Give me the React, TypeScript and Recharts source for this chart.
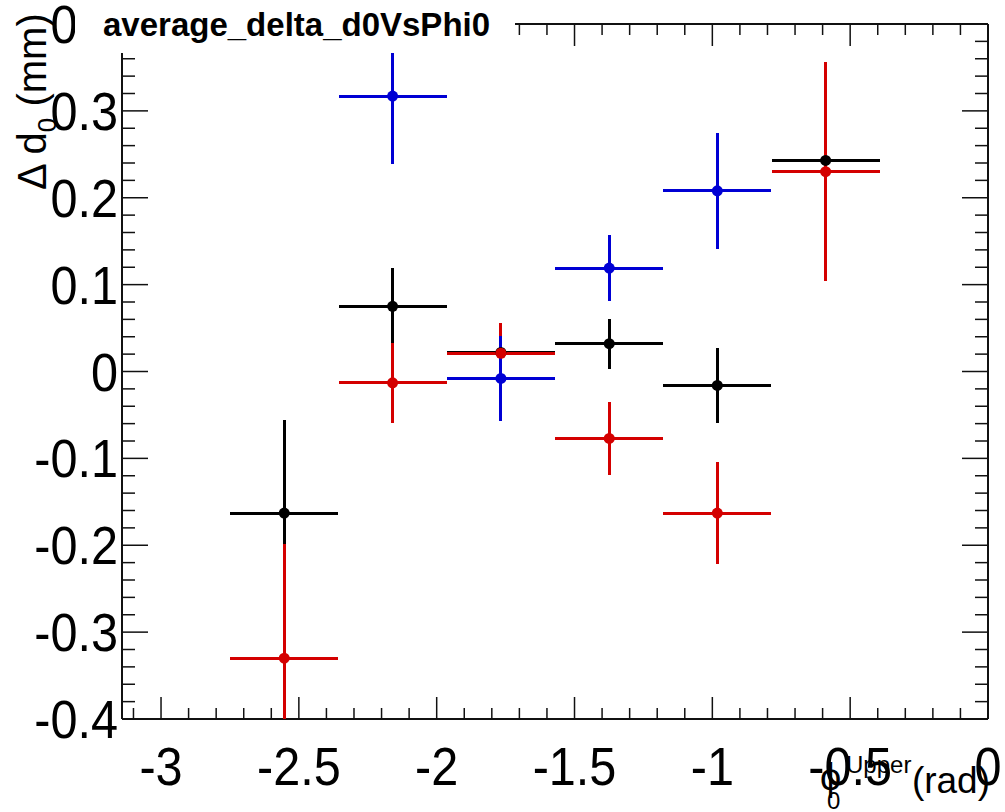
import { ScatterChart, Scatter, XAxis, YAxis, ErrorBar } from 'recharts';

// bin centres of phi0 (8 bins of pi/8 between -pi and 0, only 6 are filled)
const binCenters = [-2.553, -2.160, -1.767, -1.374, -0.982, -0.589];
const binHalfWidth = 0.196;

const blackY = [-0.163, 0.075, 0.022, 0.032, -0.016, 0.243];
const blackErr = [0.107, 0.044, 0.03, 0.029, 0.043, 0.04];

const redY = [-0.330, -0.013, 0.021, -0.077, -0.163, 0.230];
const redErr = [0.131, 0.046, 0.035, 0.042, 0.059, 0.126];

// blue only has bins 2..5
const blueX = [-2.160, -1.767, -1.374, -0.982];
const blueY = [0.317, -0.008, 0.119, 0.208];
const blueErr = [0.078, 0.049, 0.038, 0.067];

const xMajorTicks = [-3, -2.5, -2, -1.5, -1, -0.5, 0];
const yMajorTicks = [-0.4, -0.3, -0.2, -0.1, 0, 0.1, 0.2, 0.3, 0.4];

// minor ticks every 0.1 in x and 0.02 in y
const xTicks = Array.from({ length: 32 }, (_, i) => (-31 + i) / 10);
const yTicks = Array.from({ length: 41 }, (_, i) => (-40 + 2 * i) / 100);

const toPoints = (xs: number[], ys: number[], errs: number[]) =>
    xs.map((x, i) => ({ x, y: ys[i], ex: binHalfWidth, ey: errs[i] }));

const blackData = toPoints(binCenters, blackY, blackErr);
const redData = toPoints(binCenters, redY, redErr);
const blueData = toPoints(blueX, blueY, blueErr);

const FONT = '"Liberation Sans", Arial, Helvetica, sans-serif';
const AXIS = '#111';
const W = 1005;
const H = 812;
const PLOT = { top: 24, right: 17, bottom: 93, left: 122 };
const PLOT_H = H - PLOT.top - PLOT.bottom;

const isMajorX = (v: number) => xMajorTicks.some(t => Math.abs(t - v) < 1e-6);
const isMajorY = (v: number) => yMajorTicks.some(t => Math.abs(t - v) < 1e-6);

// bottom axis tick also draws the mirrored tick on the top frame
const BottomTick = (props: any) => {
    const { x, y, payload } = props;
    const major = isMajorX(payload.value);
    const len = major ? 22 : 11;
    const top = y - PLOT_H;
    return (
        <g>
            <line x1={x} x2={x} y1={y} y2={y - len} stroke={AXIS} strokeWidth={1.5} />
            <line x1={x} x2={x} y1={top} y2={top + len} stroke={AXIS} strokeWidth={1.5} />
            {major && (
                <text transform={`translate(${x} ${y + 66}) scale(0.9 1)`} textAnchor="middle" fontSize={54} fontFamily={FONT} fill="#000">
                    {String(payload.value)}
                </text>
            )}
        </g>
    );
};

const LeftTick = (props: any) => {
    const { x, y, payload } = props;
    const major = isMajorY(payload.value);
    return (
        <g>
            <line x1={x} x2={x + (major ? 26 : 13)} y1={y} y2={y} stroke={AXIS} strokeWidth={1.5} />
            {major && (
                <text transform={`translate(${x - 4} ${y + 19}) scale(0.9 1)`} textAnchor="end" fontSize={54} fontFamily={FONT} fill="#000">
                    {String(payload.value)}
                </text>
            )}
        </g>
    );
};

const RightTick = (props: any) => {
    const { x, y, payload } = props;
    const major = isMajorY(payload.value);
    return <line x1={x} x2={x - (major ? 26 : 13)} y1={y} y2={y} stroke={AXIS} strokeWidth={1.5} />;
};

const dot = (color: string) => (p: any) => <circle cx={p.cx} cy={p.cy} r={5.5} fill={color} />;

const series = [
    { name: 'black', data: blackData, color: '#000000' },
    { name: 'red', data: redData, color: '#d40000' },
    { name: 'blue', data: blueData, color: '#0000d4' },
];

const axisCommon = { type: 'number' as const, allowDataOverflow: true, interval: 0, tickSize: 0, tickMargin: 0, tickLine: false };

export default function App() {
    return (
        <div style={{ position: 'fixed', left: 0, top: 0, width: W, height: H, background: '#fff' }}>
            <style>{'.recharts-errorBar line{shape-rendering:crispEdges}'}</style>
            {/* frame, ticks and tick labels */}
            <div style={{ position: 'absolute', left: 0, top: 0 }}>
                <ScatterChart width={W} height={H} margin={{ top: PLOT.top - 1, right: PLOT.right - 1, bottom: PLOT.bottom - 1, left: PLOT.left - 1 }}>
                    <XAxis {...axisCommon} dataKey="x" domain={[-Math.PI, 0]} ticks={xTicks} height={1} tick={BottomTick} axisLine={{ stroke: AXIS, strokeWidth: 2 }} />
                    <XAxis {...axisCommon} xAxisId="top" orientation="top" domain={[-Math.PI, 0]} ticks={xTicks} height={1} tick={false} axisLine={{ stroke: AXIS, strokeWidth: 2 }} />
                    <YAxis {...axisCommon} dataKey="y" domain={[-0.4, 0.4]} ticks={yTicks} width={1} tick={LeftTick} axisLine={{ stroke: AXIS, strokeWidth: 2 }} />
                    <YAxis {...axisCommon} yAxisId="right" orientation="right" domain={[-0.4, 0.4]} ticks={yTicks} width={1} tick={RightTick} axisLine={{ stroke: AXIS, strokeWidth: 2 }} />
                </ScatterChart>
            </div>
            {/* data points, clipped to the frame */}
            <div style={{ position: 'absolute', left: 0, top: 0, clipPath: `inset(${PLOT.top}px ${PLOT.right}px ${PLOT.bottom}px ${PLOT.left}px)` }}>
                <ScatterChart width={W} height={H} margin={PLOT}>
                    <XAxis type="number" dataKey="x" domain={[-Math.PI, 0]} allowDataOverflow hide />
                    <YAxis type="number" dataKey="y" domain={[-0.4, 0.4]} allowDataOverflow hide />
                    {series.map(s => (
                        <Scatter key={s.name} data={s.data} fill={s.color} shape={dot(s.color)} isAnimationActive={false}>
                            <ErrorBar dataKey="ex" direction="x" width={0} stroke={s.color} strokeWidth={3} isAnimationActive={false} />
                            <ErrorBar dataKey="ey" direction="y" width={0} stroke={s.color} strokeWidth={3} isAnimationActive={false} />
                        </Scatter>
                    ))}
                </ScatterChart>
            </div>
            <svg width={W} height={H} style={{ position: 'absolute', left: 0, top: 0, pointerEvents: 'none' }}>
                <rect x={75} y={0} width={440} height={53} fill="#fff" />
                <text x={103} y={36} fontSize={33} fontWeight="bold" fontFamily={FONT} fill="#000">
                    average_delta_d0VsPhi0
                </text>
                <text transform="translate(46,190) rotate(-90)" fontSize={40} fontFamily={FONT} fill="#000">
                    <tspan>Δ d</tspan>
                    <tspan fontSize={26} dy={10}>0</tspan>
                    <tspan dy={-10}> (mm)</tspan>
                </text>
                <text x={820} y={790} fontSize={38} fontFamily={FONT} fill="#000">ϕ</text>
                <text x={827} y={809} fontSize={24} fontFamily={FONT} fill="#000">0</text>
                <text x={846} y={773} fontSize={24} fontFamily={FONT} fill="#000">Upper</text>
                <text x={990} y={793} textAnchor="end" fontSize={37} fontFamily={FONT} fill="#000">
                    (rad)
                </text>
            </svg>
        </div>
    );
}
